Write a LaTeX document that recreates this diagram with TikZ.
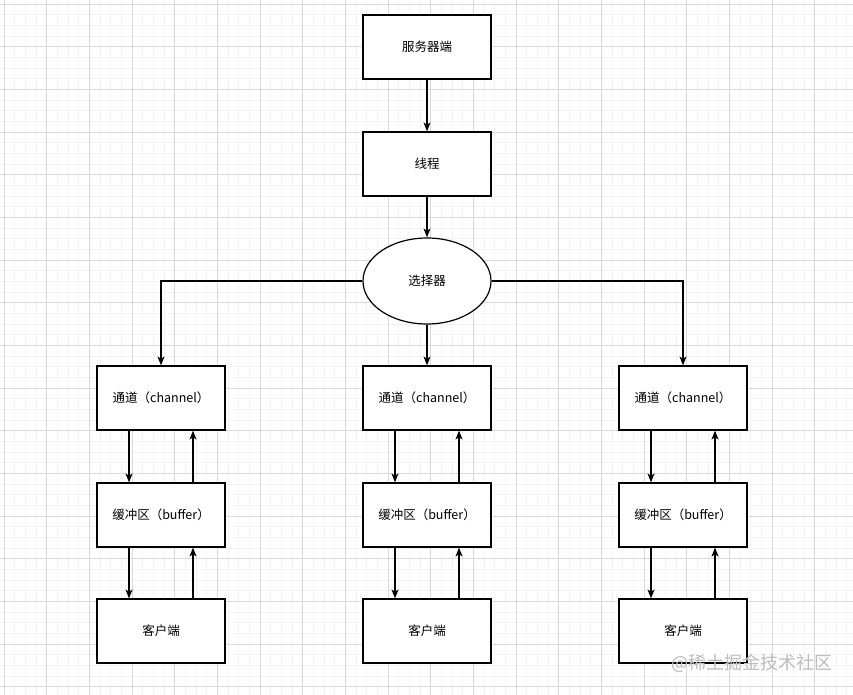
\documentclass[tikz,border=0pt]{standalone}
\usepackage{fontspec}
\setmainfont{Noto Sans CJK SC}
\usetikzlibrary{arrows.meta,shapes.geometric}
\definecolor{minorgrid}{HTML}{F3F3F3}
\definecolor{majorgrid}{HTML}{DADADA}
\definecolor{wm}{HTML}{BDBDBD}
\begin{document}
\begin{tikzpicture}[x=1pt,y=-1pt,
  box/.style={draw=black,line width=1.2pt,fill=white,minimum width=128pt,minimum height=64pt,inner sep=0pt,font=\fontsize{12.5}{14}\selectfont},
  oval/.style={draw=black,line width=1.2pt,fill=white,ellipse,minimum width=128pt,minimum height=86pt,inner sep=0pt,font=\fontsize{12.5}{14}\selectfont},
  conn/.style={line width=1.1pt,-{Stealth[length=9pt,width=7pt,inset=2.5pt]}},
  plain/.style={line width=1.1pt}]
\useasboundingbox (0,0) rectangle (853,695);
\fill[white] (0,0) rectangle (853,695);
% grid
\foreach \i in {0,...,80} {
  \draw[minorgrid,line width=0.6pt] ({4+\i*10.6667},0) -- ({4+\i*10.6667},695);
}
\foreach \i in {0,...,65} {
  \draw[minorgrid,line width=0.6pt] (0,{4+\i*10.6667}) -- (853,{4+\i*10.6667});
}
\foreach \i in {0,...,20} {
  \draw[majorgrid,line width=0.7pt] ({4+\i*42.6667},0) -- ({4+\i*42.6667},695);
}
\foreach \i in {0,...,16} {
  \draw[majorgrid,line width=0.7pt] (0,{4+\i*42.6667}) -- (853,{4+\i*42.6667});
}
% nodes
\node[box] (server) at (427,47) {服务器端};
\node[box] (thread) at (427,164) {线程};
\node[oval] (sel) at (427,281) {选择器};
\node[box] (ch1) at (161,398) {通道（channel）};
\node[box] (ch2) at (427,398) {通道（channel）};
\node[box] (ch3) at (683,398) {通道（channel）};
\node[box] (bf1) at (161,515) {缓冲区（buffer）};
\node[box] (bf2) at (427,515) {缓冲区（buffer）};
\node[box] (bf3) at (683,515) {缓冲区（buffer）};
\node[box] (cl1) at (161,631) {客户端};
\node[box] (cl2) at (427,631) {客户端};
\node[box] (cl3) at (683,631) {客户端};
% connectors
\draw[conn] (server) -- (thread);
\draw[conn] (thread) -- (sel);
\draw[conn] (sel.south) -- (ch2.north);
\draw[conn] (sel.west) -| (ch1.north);
\draw[conn] (sel.east) -| (ch3.north);
\foreach \c/\b/\k in {ch1/bf1/cl1,ch2/bf2/cl2,ch3/bf3/cl3} {
  \draw[conn] ([xshift=-32pt]\c.south) -- ([xshift=-32pt]\b.north);
  \draw[conn] ([xshift=32pt]\b.north) -- ([xshift=32pt]\c.south);
  \draw[conn] ([xshift=-32pt]\b.south) -- ([xshift=-32pt]\k.north);
  \draw[conn] ([xshift=32pt]\k.north) -- ([xshift=32pt]\b.south);
}
% watermark
\node[text=wm,font=\fontsize{18}{20}\selectfont,anchor=east,inner sep=0pt] (wmark) at (833,663) {@稀土掘金技术社区};
\end{tikzpicture}
\end{document}
